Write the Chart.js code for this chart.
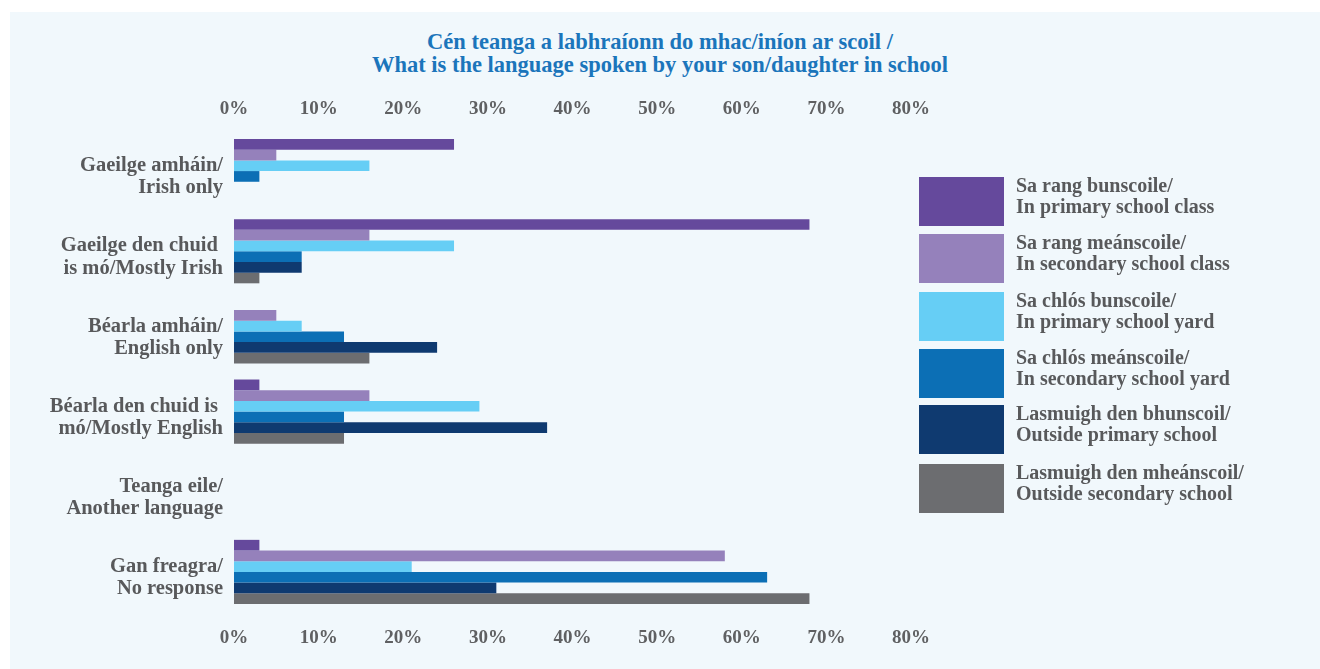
<!DOCTYPE html>
<html>
<head>
<meta charset="utf-8">
<script src="https://cdn.jsdelivr.net/npm/chart.js@4.4.1/dist/chart.umd.min.js"></script>
<style>
  body { margin: 0; background: #fff; width: 1320px; height: 669px; overflow: hidden; position: relative; font-family: "Liberation Serif", serif; }
  #panel { position: absolute; left: 10px; top: 12px; right: 0; bottom: 0; background: #f1f8fc; }
  #wrap { position: absolute; left: 0; top: 0; width: 1320px; height: 669px; }
  #title { position: absolute; left: 0; top: 30px; width: 1320px; text-align: center; color: #1b75bb; font-weight: bold; font-size: 22.5px; line-height: 23px; }
  .item { position: absolute; left: 919px; height: 49px; }
  .box { position: absolute; left: 0; top: 0; width: 85px; height: 49px; }
  .txt { position: absolute; left: 97px; top: -2px; white-space: nowrap; color: #58595b; font-weight: bold; font-size: 20px; line-height: 21px; }
</style>
</head>
<body>
<div id="panel"></div>
<div id="title">Cén teanga a labhraíonn do mhac/iníon ar scoil /<br>What is the language spoken by your son/daughter in school</div>
<div id="wrap"><canvas id="chart"></canvas></div>
<div id="legend"></div>
<script>
//? categories (left axis, two lines each)
const categories = [
  ['Gaeilge amháin/', 'Irish only'],
  ['Gaeilge den chuid ', 'is mó/Mostly Irish'],
  ['Béarla amháin/', 'English only'],
  ['Béarla den chuid is ', 'mó/Mostly English'],
  ['Teanga eile/', 'Another language'],
  ['Gan freagra/', 'No response'],
]

//? series names (legend, two lines each)
const seriesNames = [
  ['Sa rang bunscoile/', 'In primary school class'],
  ['Sa rang meánscoile/', 'In secondary school class'],
  ['Sa chlós bunscoile/', 'In primary school yard'],
  ['Sa chlós meánscoile/', 'In secondary school yard'],
  ['Lasmuigh den bhunscoil/', 'Outside primary school'],
  ['Lasmuigh den mheánscoil/', 'Outside secondary school'],
]

const seriesColors = ['#65499c', '#9581bb', '#66cef5', '#0c6fb5', '#0f3a70', '#6c6d70']

//? values in %, one array per series, in category order
const primaryClass   = [26, 68, 0, 3, 0, 3]
const secondaryClass = [5, 16, 5, 16, 0, 58]
const primaryYard    = [16, 26, 8, 29, 0, 21]
const secondaryYard  = [3, 8, 13, 13, 0, 63]
const outsidePrimary = [0, 8, 24, 37, 0, 31]
const outsideSecond  = [0, 3, 16, 13, 0, 68]

//? axis ticks
const tickMin = 0
const tickMax = 80
const tickStep = 10

const seriesValues = [primaryClass, secondaryClass, primaryYard, secondaryYard, outsidePrimary, outsideSecond]

const tickFont = { family: '"Liberation Serif", serif', size: 19, weight: 'bold' }
const textGray = '#58595b'

const datasets = seriesValues.map((vals, i) => ({
  label: seriesNames[i].join(' '),
  data: vals,
  backgroundColor: seriesColors[i],
  borderWidth: 0,
  categoryPercentage: 0.8,
  barPercentage: 1.0,
}))

function pctAxis(pos, h, pad) {
  return {
    type: 'linear',
    position: pos,
    min: tickMin,
    max: tickMax,
    grid: { display: false, drawTicks: false },
    border: { display: false },
    ticks: {
      stepSize: tickStep,
      padding: pad,
      color: '#5f6062',
      font: tickFont,
      callback: (v) => v + '%',
    },
    afterFit: (s) => { s.height = h },
  }
}

const ctx = document.getElementById('chart').getContext('2d')
const chart = new Chart(ctx, {
  type: 'bar',
  data: { labels: categories, datasets: datasets },
  options: {
    indexAxis: 'y',
    responsive: true,
    maintainAspectRatio: false,
    animation: false,
    layout: { padding: { left: 0, right: 409, top: 0, bottom: 0 } },
    plugins: { legend: { display: false }, title: { display: false }, tooltip: { enabled: false } },
    scales: {
      x: pctAxis('bottom', 57, 15),
      x2: pctAxis('top', 131, 11),
      y: {
        grid: { display: false, drawTicks: false },
        border: { display: false },
        ticks: {
          padding: 11,
          labelOffset: 6,
          color: textGray,
          font: { family: '"Liberation Serif", serif', size: 20.5, weight: 'bold', lineHeight: 1.08 },
        },
        afterFit: (s) => { s.width = 234 },
      },
    },
  },
})

//? legend built from the same series arrays
const legend = document.getElementById('legend')
const legendTops = [177, 234, 292, 349, 405, 464]
for (let i = 0; i < seriesNames.length; i++) {
  let item = document.createElement('div')
  item.className = 'item'
  item.style.top = legendTops[i] + 'px'
  let box = document.createElement('div')
  box.className = 'box'
  box.style.background = seriesColors[i]
  let txt = document.createElement('div')
  txt.className = 'txt'
  txt.innerHTML = seriesNames[i].join('<br>')
  item.appendChild(box)
  item.appendChild(txt)
  legend.appendChild(item)
}
</script>
</body>
</html>
